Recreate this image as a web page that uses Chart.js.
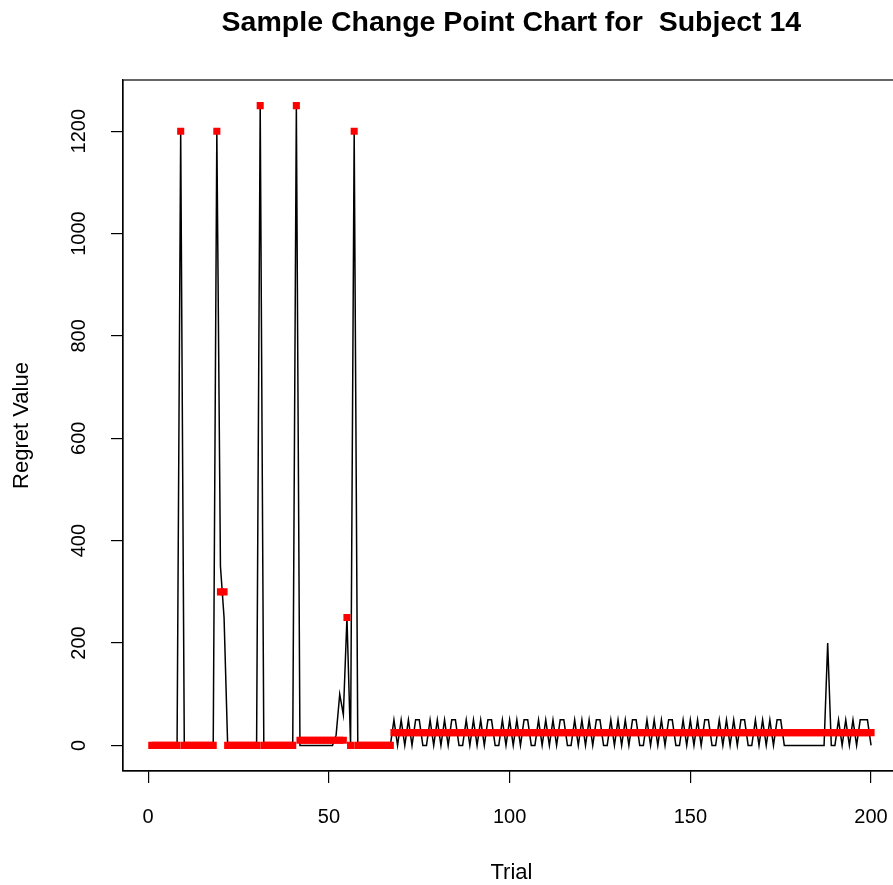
<!DOCTYPE html>
<html>
<head>
<meta charset="utf-8">
<script src="https://cdn.jsdelivr.net/npm/chart.js@4.4.1/dist/chart.umd.min.js"></script>
<style>
  html, body { margin: 0; padding: 0; background: #fff; overflow: hidden; }
  #wrap { width: 910px; height: 885px; }
</style>
</head>
<body>
<div id="wrap"><canvas id="c" width="910" height="885"></canvas></div>
<script>
// ---- data ----
const chartTitle = "Sample Change Point Chart for  Subject 14";
const xAxisTitle = "Trial";
const yAxisTitle = "Regret Value";
const xTickValues = [0, 50, 100, 150, 200];
const yTickValues = [0, 200, 400, 600, 800, 1000, 1200];

// regret value for trials 1..200 (black line)
const regret = [
  0,0,0,0,0,0,0,0,1200,0,
  0,0,0,0,0,0,0,0,1200,350,
  250,0,0,0,0,0,0,0,0,0,
  1250,0,0,0,0,0,0,0,0,0,
  1250,0,0,0,0,0,0,0,0,0,
  0,20,100,60,250,0,1200,0,0,0,
  0,0,0,0,0,0,0,50,0,50,
  0,50,0,50,50,0,0,50,0,50,
  0,50,0,50,50,0,0,50,0,50,
  0,50,0,50,50,0,0,50,0,50,
  0,50,0,50,50,0,0,50,0,50,
  0,50,0,50,50,0,0,50,0,50,
  0,50,0,50,50,0,0,50,0,50,
  0,50,0,50,50,0,0,50,0,50,
  0,50,0,50,50,0,0,50,0,50,
  0,50,0,50,50,0,0,50,0,50,
  0,50,0,50,50,0,0,50,0,50,
  0,50,0,50,50,0,0,0,0,0,
  0,0,0,0,0,0,0,200,0,0,
  50,0,50,0,50,0,50,50,50,0
];

// change-point segment means for trials 1..200 (red squares)
const segmentMean = [
  0,0,0,0,0,0,0,0,1200,0,
  0,0,0,0,0,0,0,0,1200,300,
  300,0,0,0,0,0,0,0,0,0,
  1250,0,0,0,0,0,0,0,0,0,
  1250,10,10,10,10,10,10,10,10,10,
  10,10,10,10,250,0,1200,0,0,0,
  0,0,0,0,0,0,0,25,25,25,
  25,25,25,25,25,25,25,25,25,25,
  25,25,25,25,25,25,25,25,25,25,
  25,25,25,25,25,25,25,25,25,25,
  25,25,25,25,25,25,25,25,25,25,
  25,25,25,25,25,25,25,25,25,25,
  25,25,25,25,25,25,25,25,25,25,
  25,25,25,25,25,25,25,25,25,25,
  25,25,25,25,25,25,25,25,25,25,
  25,25,25,25,25,25,25,25,25,25,
  25,25,25,25,25,25,25,25,25,25,
  25,25,25,25,25,25,25,25,25,25,
  25,25,25,25,25,25,25,25,25,25,
  25,25,25,25,25,25,25,25,25,25
];

const trials = regret.map((_, i) => i + 1);

// ---- chart ----
Chart.defaults.font.family = "'Liberation Sans', Arial, sans-serif";
Chart.defaults.color = "#000";

const boxPlugin = {
  id: 'box',
  afterDatasetsDraw(chart) {
    const a = chart.chartArea, ctx = chart.ctx;
    ctx.save();
    ctx.strokeStyle = '#000';
    ctx.lineWidth = 1.2;
    ctx.strokeRect(a.left, a.top, a.right - a.left, a.bottom - a.top);
    ctx.restore();
  }
};

const titlePlugin = {
  id: 'rtitle',
  afterDraw(chart) {
    const a = chart.chartArea, ctx = chart.ctx;
    ctx.save();
    ctx.font = "bold 28.5px 'Liberation Sans', Arial, sans-serif";
    ctx.fillStyle = '#000';
    ctx.textAlign = 'center';
    ctx.textBaseline = 'middle';
    ctx.fillText(chartTitle, (a.left + a.right) / 2, 23);
    ctx.restore();
  }
};

new Chart(document.getElementById('c'), {
  type: 'line',
  data: {
    datasets: [
      {
        label: 'segment mean',
        data: trials.map((t, i) => ({ x: t, y: segmentMean[i] })),
        showLine: false,
        pointStyle: 'rect',
        pointRadius: 5,
        pointBackgroundColor: '#ff0000',
        pointBorderWidth: 0,
        pointBorderColor: '#ff0000',
        order: 0
      },
      {
        label: 'regret',
        data: trials.map((t, i) => ({ x: t, y: regret[i] })),
        borderColor: '#000',
        borderWidth: 1.5,
        pointRadius: 0,
        tension: 0,
        fill: false,
        order: 1
      }
    ]
  },
  options: {
    responsive: false,
    devicePixelRatio: 1,
    animation: false,
    events: [],
    layout: { padding: { left: 0, right: 7, top: 80, bottom: 0 } },
    plugins: {
      legend: { display: false },
      tooltip: { enabled: false },
      title: { display: false }
    },
    scales: {
      x: {
        type: 'linear',
        min: -6.96,
        max: 207.96,
        afterBuildTicks: s => { s.ticks = xTickValues.map(v => ({ value: v })); },
        afterFit: s => { s.height = 114; },
        grid: { display: true, drawOnChartArea: false, drawTicks: true, tickLength: 12, color: '#000', lineWidth: 1.2 },
        border: { display: true, color: '#000', width: 1.2 },
        ticks: { maxRotation: 0, minRotation: 0, padding: 22, font: { size: 20 }, color: '#000', autoSkip: false,
                 callback: v => String(v) },
        title: { display: true, text: xAxisTitle, font: { size: 22, lineHeight: 1 }, padding: { top: 0, bottom: 1 }, color: '#000' }
      },
      y: {
        type: 'linear',
        min: -50,
        max: 1300,
        afterBuildTicks: s => { s.ticks = yTickValues.map(v => ({ value: v })); },
        afterFit: s => { s.width = 123; },
        grid: { display: true, drawOnChartArea: false, drawTicks: true, tickLength: 12, color: '#000', lineWidth: 1.2 },
        border: { display: true, color: '#000', width: 1.2 },
        ticks: { minRotation: 90, maxRotation: 90, crossAlign: 'center', padding: 9, font: { size: 20 }, color: '#000', autoSkip: false,
                 callback: v => String(v) },
        title: { display: true, text: yAxisTitle, font: { size: 22, lineHeight: 1 }, padding: { top: 11, bottom: 0 }, color: '#000' }
      }
    }
  },
  plugins: [boxPlugin, titlePlugin]
});
</script>
</body>
</html>
